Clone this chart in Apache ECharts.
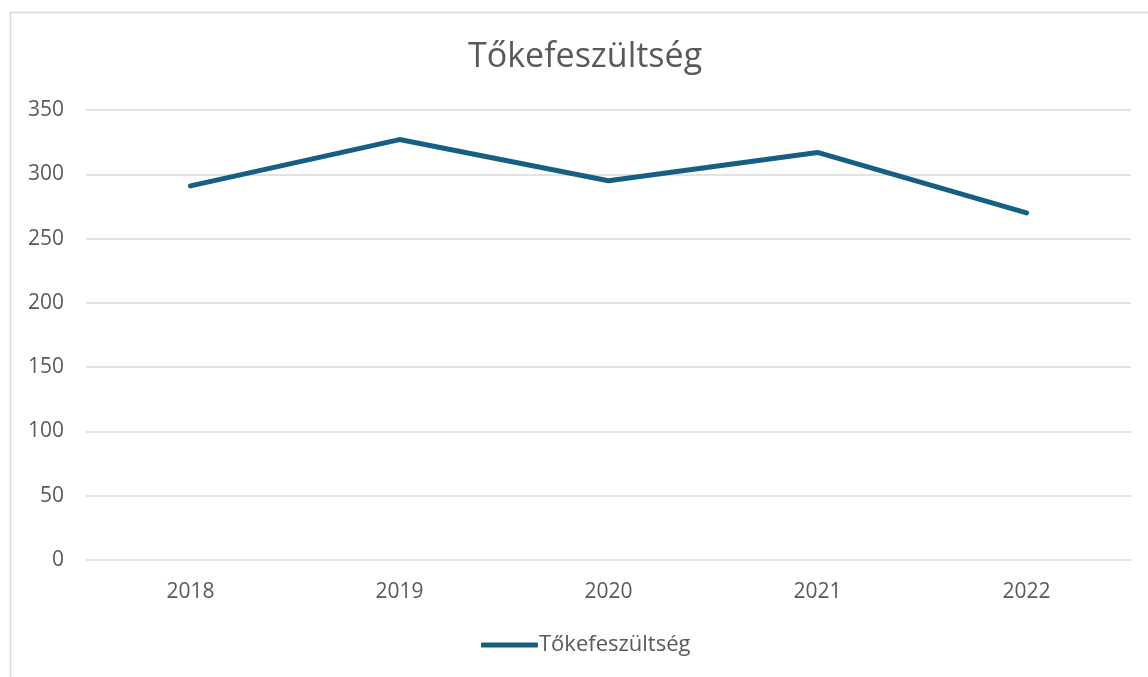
<!DOCTYPE html>
<html>
<head>
<meta charset="utf-8">
<script src="https://cdn.jsdelivr.net/npm/echarts@6/dist/echarts.min.js"></script>
<style>html,body{margin:0;padding:0;background:#fff}#c{width:1148px;height:677px}</style>
</head>
<body>
<div id="c"></div>
<script>
const categories = ['2018', '2019', '2020', '2021', '2022'];
const values = [291, 327, 295, 317, 270];
const seriesName = 'Tőkefeszültség';
const chartTitle = 'Tőkefeszültség';

const chart = echarts.init(document.getElementById('c'));
chart.setOption({
  animation: false,
  backgroundColor: '#fff',
  graphic: [{
    type: 'rect', left: 8, top: 10,
    shape: { width: 1200, height: 700 },
    style: { fill: 'none', stroke: '#d9d9d9', lineWidth: 1.5 },
    silent: true, z: -1
  }],
  title: {
    text: chartTitle, left: 463, top: 35,
    textStyle: { fontFamily: 'Open Sans', fontSize: 34, fontWeight: 'normal', color: '#595959' }
  },
  legend: {
    bottom: 16, left: 476,
    itemWidth: 57, itemHeight: 5, itemGap: 4,
    icon: 'roundRect',
    textStyle: { fontFamily: 'Open Sans', fontSize: 22, color: '#595959', padding: [0, 0, 0, -4] },
    data: [seriesName]
  },
  grid: { left: 86, right: 17, top: 110, bottom: 117, containLabel: false },
  xAxis: {
    type: 'category', data: categories, boundaryGap: true,
    axisLine: { show: false }, axisTick: { show: false },
    axisLabel: { fontFamily: 'Open Sans', fontSize: 21, color: '#595959', margin: 22 }
  },
  yAxis: {
    type: 'value', min: 0, max: 350, interval: 50,
    axisLine: { show: false }, axisTick: { show: false },
    splitLine: { lineStyle: { color: '#d9d9d9', width: 1.5 } },
    axisLabel: { fontFamily: 'Open Sans', fontSize: 21, color: '#595959', margin: 22 }
  },
  series: [{
    name: seriesName, type: 'line', data: values,
    symbol: 'none',
    lineStyle: { color: '#156082', width: 5, cap: 'round', join: 'round' },
    itemStyle: { color: '#156082' }
  }]
});
</script>
</body>
</html>
